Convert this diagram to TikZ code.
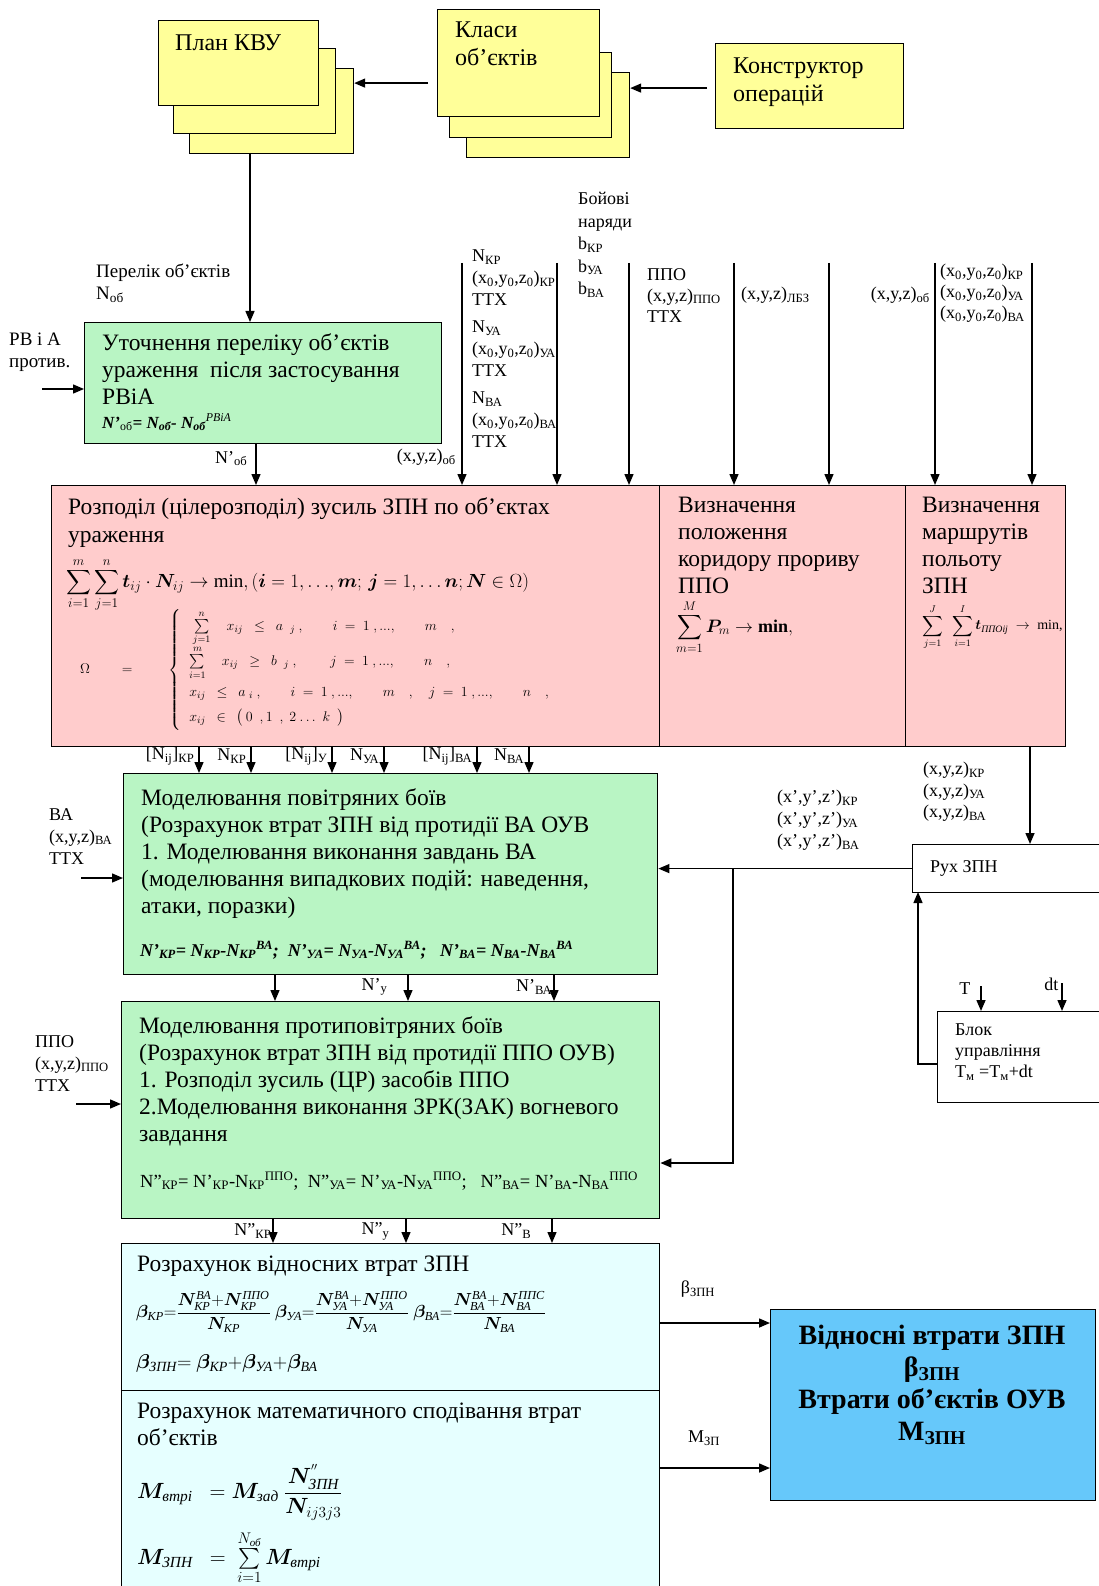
\RequirePackage{fix-cm}
\documentclass[tikz,border=0pt]{standalone}
\usepackage{amsmath}
\usepackage{bm}
\usepackage{fontspec}
\setmainfont{Liberation Serif}
\usetikzlibrary{arrows.meta,positioning}
\definecolor{yel}{RGB}{255,255,153}
\definecolor{grn}{RGB}{185,245,196}
\definecolor{pnk}{RGB}{255,204,204}
\definecolor{cyn}{RGB}{230,255,255}
\definecolor{blu}{RGB}{102,200,250}
\newcommand{\ci}[1]{\text{\itshape #1}}
\begin{document}
\begin{tikzpicture}[x=1pt, y=-1pt, every node/.style={inner sep=0pt},
  blk/.style={draw, line width=1.4pt, anchor=north west},
  ybox/.style={blk, fill=yel, line width=1.2pt},
  gbox/.style={blk, fill=grn},
  rbox/.style={blk, fill=pnk},
  cbox/.style={blk, fill=cyn},
  wbox/.style={blk, fill=white, line width=1.2pt},
  big/.style={font=\fontsize{23.5}{27}\selectfont, align=left, anchor=north west},
  ytxt/.style={font=\fontsize{24}{28}\selectfont, align=left, anchor=north west},
  lbl/.style={font=\fontsize{18}{21}\selectfont, align=left},
  arr/.style={line width=1.4pt, -{Triangle[length=11pt,width=9pt]}}]
  \useasboundingbox (0,0) rectangle (1099,1586);
  \clip (0,0) rectangle (1099,1586);
  % top stacks
  \node[ybox, minimum width=164, minimum height=85] (plan3) at (189,68) {};
  \node[ybox, minimum width=162, minimum height=85] (plan2) at (173,48) {};
  \node[ybox, minimum width=160, minimum height=85] (plan1) at (158,20) {};
  \node[ytxt] (plantxt) at (175,35) {План КВУ};
  \node[ybox, minimum width=163, minimum height=85] (klas3) at (466,72) {};
  \node[ybox, minimum width=162, minimum height=85] (klas2) at (449,52) {};
  \node[ybox, minimum width=162, minimum height=107] (klas1) at (437,9) {};
  \node[ytxt] (klastxt) at (455,22) {Класи\\об’єктів};
  \node[ybox, minimum width=188, minimum height=85] (konstr) at (715,43) {};
  \node[ytxt] (konstrtxt) at (733,58) {Конструктор\\операцій};
  \draw[arr] ([xshift=-9pt,yshift=-20pt]klas1.west) -- ([yshift=-20pt]klas1.west -| plan3.east);
  \draw[arr] ([xshift=-8pt,yshift=-2pt]konstr.west) -- ([yshift=-2pt]konstr.west -| klas3.east);
  % first green block
  \node[gbox, minimum width=357, minimum height=121] (utoch) at (84,322) {};
  \node[big] (utochtxt) at (102,333) {Уточнення переліку об’єктів\\ураження \ після застосування\\РВіА\\[-3pt]
    {\fontsize{17}{20}\selectfont\bfseries\itshape N’\textsubscript{\upshape\mdseries об}= N\textsubscript{об}- N\textsubscript{об}\textsuperscript{\mdseries РВіА}}};
  \coordinate (p1) at (250,153);
  \draw[arr] (p1) -- (p1 |- utoch.north);
  \node[lbl, anchor=north west, font=\fontsize{19}{22}\selectfont] (perelik) at (96,264) {Перелік об’єктів\\N\textsubscript{об}};
  \node[lbl, anchor=north west, font=\fontsize{19}{22}\selectfont] (rvia) at (9,333) {РВ і А\\против.};
  \coordinate (rin) at (42,389);
  \draw[arr] (rin) -- (rin -| utoch.west);
  % red blocks
  \node[rbox, minimum width=608, minimum height=261] (rozp) at (51,485) {};
  \node[rbox, minimum width=246, minimum height=261] (kor) at (659,485) {};
  \node[rbox, minimum width=160, minimum height=261] (marsh) at (905,485) {};
  \coordinate (n1) at (256,460);
  \draw[arr] (n1 |- utoch.south) -- (n1 |- rozp.north) node[lbl, pos=0.35, left=8pt] {N’\textsubscript{об}};
  \foreach \x in {462,557,629} {
    \coordinate (s) at (\x,263);
    \draw[arr] (s) -- (s |- rozp.north);
  }
  \foreach \x in {734,829} {
    \coordinate (s) at (\x,263);
    \draw[arr] (s) -- (s |- kor.north);
  }
  \foreach \x in {935,1032} {
    \coordinate (s) at (\x,263);
    \draw[arr] (s) -- (s |- marsh.north);
  }
  \node[lbl, anchor=north east] (xyzob) at (456,449) {(x,y,z)\textsubscript{об}};
  \node[lbl, anchor=north west, font=\fontsize{18}{22}\selectfont] (nkr) at (472,250)
    {N\textsubscript{КР}\\(x\textsubscript{0},y\textsubscript{0},z\textsubscript{0})\textsubscript{КР}\\ТТХ\\[5pt]
     N\textsubscript{УА}\\(x\textsubscript{0},y\textsubscript{0},z\textsubscript{0})\textsubscript{УА}\\ТТХ\\[5pt]
     N\textsubscript{ВА}\\(x\textsubscript{0},y\textsubscript{0},z\textsubscript{0})\textsubscript{ВА}\\ТТХ};
  \node[lbl, anchor=north west, font=\fontsize{18}{22.5}\selectfont] (boiovi) at (578,192)
    {Бойові\\наряди\\b\textsubscript{КР}\\b\textsubscript{УА}\\b\textsubscript{ВА}};
  \node[lbl, anchor=north west] (ppoin) at (647,268) {ППО\\(x,y,z)\textsubscript{ППО}\\ТТХ};
  \node[lbl, anchor=north west] (lbz) at (741,287) {(x,y,z)\textsubscript{ЛБЗ}};
  \node[lbl, anchor=north east] (xyzob2) at (930,287) {(x,y,z)\textsubscript{об}};
  \node[lbl, anchor=north west] (x0) at (940,264)
    {(x\textsubscript{0},y\textsubscript{0},z\textsubscript{0})\textsubscript{КР}\\(x\textsubscript{0},y\textsubscript{0},z\textsubscript{0})\textsubscript{УА}\\(x\textsubscript{0},y\textsubscript{0},z\textsubscript{0})\textsubscript{ВА}};
  \node[big, font=\fontsize{23.5}{28}\selectfont] (rozptxt) at (68,497) {Розподіл (цілерозподіл) зусиль ЗПН по об’єктах\\ураження};
  \node[anchor=west, font=\fontsize{19}{23}\selectfont] (rozpsum) at (66,585)
    {$\displaystyle\sum_{i=1}^{m}\sum_{j=1}^{n}\bm{t}_{ij}\cdot\bm{N}_{ij}\to\min,(\bm{i}=1,{\ldots},\bm{m};\,\bm{j}=1,{\ldots}\,\bm{n};\bm{N}\in\Omega)$};
  \node[anchor=west, font=\fontsize{14}{17}\selectfont] (omeg) at (80,670)
    {$\Omega\qquad=\qquad\ \left\{\renewcommand{\arraystretch}{1.45}\begin{array}{l}
      \ \ \sum\limits_{j=1}^{n}\quad x_{ij}\ \ \le\ \ a\ \ _{j}\ ,\qquad i\ =\ 1\ ,...,\qquad m\quad ,\\
      \ \sum\limits_{i=1}^{m}\quad x_{ij}\ \ \ge\ \ b\ \ _{j}\ ,\qquad\ j\ =\ 1\ ,...,\qquad n\quad ,\\
      \ x_{ij}\ \ \le\ \ a\ _{i}\ ,\qquad i\ =\ 1\ ,...,\qquad m\quad ,\quad j\ =\ 1\ ,...,\qquad n\quad ,\\
      \ x_{ij}\ \ \in\ \ \bigl(\,0\ \ ,1\ \ ,\ 2\ {\ldots}\ \ k\ \ \bigr)
    \end{array}\right.$};
  \node[big] (kortxt) at (678,497) {Визначення\\положення\\коридору прориву\\ППО};
  \node[anchor=west, font=\fontsize{18}{22}\selectfont] (korsum) at (676,627)
    {$\displaystyle\sum_{m=1}^{M}\bm{P}_{m}\to\textbf{min},$};
  \node[big] (marshtxt) at (922,497) {Визначення\\маршрутів\\польоту\\ЗПН};
  \node[anchor=west, font=\fontsize{14}{17}\selectfont] (marshsum) at (922,627)
    {$\displaystyle\sum_{j=1}^{J}\ \ \sum_{i=1}^{I}\bm{t}_{\ci{ППОij}}\ \to\ \text{min,}$};
  % air combat block
  \node[gbox, minimum width=534, minimum height=201] (model) at (123,773) {};
  \foreach \x/\t in {199/{[N\textsubscript{ij}]\textsubscript{КР}}, 251/{N\textsubscript{КР}}, 332/{[N\textsubscript{ij}]\textsubscript{У}},
                     384/{N\textsubscript{УА}}, 477/{[N\textsubscript{ij}]\textsubscript{ВА}}, 529/{N\textsubscript{ВА}}} {
    \coordinate (d) at (\x,760);
    \draw[arr] (d |- rozp.south) -- (d |- model.north) node[lbl, pos=0.35, left=4pt] {\t};
  }
  \node[big] (modeltxt) at (141,788) {Моделювання повітряних боїв\\(Розрахунок втрат ЗПН від протидії ВА ОУВ\\1. Моделювання виконання завдань ВА\\(моделювання випадкових подій: наведення,\\атаки, поразки)};
  \node[anchor=west, font=\fontsize{18}{22}\selectfont\bfseries\itshape] (modelf) at (140,950)
    {N’\textsubscript{КР}= N\textsubscript{КР}-N\textsubscript{КР}\textsuperscript{ВА};\ \ N’\textsubscript{УА}= N\textsubscript{УА}-N\textsubscript{УА}\textsuperscript{ВА};\ \ \ N’\textsubscript{ВА}= N\textsubscript{ВА}-N\textsubscript{ВА}\textsuperscript{ВА}};
  \node[lbl, anchor=north west, font=\fontsize{18}{22}\selectfont] (vain) at (49,808) {ВА\\(x,y,z)\textsubscript{ВА}\\ТТХ};
  \coordinate (vin) at (81,878);
  \draw[arr] (vin) -- (vin -| model.west);
  % anti-air block
  \node[gbox, minimum width=538, minimum height=217] (ppomodel) at (121,1001) {};
  \coordinate (e1) at (275,985);
  \draw[arr] (e1 |- model.south) -- (e1 |- ppomodel.north);
  \coordinate (e2) at (408,985);
  \draw[arr] (e2 |- model.south) -- (e2 |- ppomodel.north) node[lbl, pos=0.45, left=20pt] {N’\textsubscript{у}};
  \coordinate (e3) at (554,985);
  \draw[arr] (e3 |- model.south) -- (e3 |- ppomodel.north) node[lbl, pos=0.45, left=1pt] {N’\textsubscript{ВА}};
  \node[big] (ppotxt) at (139,1016) {Моделювання протиповітряних боїв\\(Розрахунок втрат ЗПН від протидії ППО ОУВ)\\1. Розподіл зусиль (ЦР) засобів ППО\\2.Моделювання виконання ЗРК(ЗАК) вогневого\\завдання};
  \node[anchor=west, font=\fontsize{18.5}{22}\selectfont] (ppof) at (140,1181)
    {N”\textsubscript{КР}= N’\textsubscript{КР}-N\textsubscript{КР}\textsuperscript{ППО};\ \ N”\textsubscript{УА}= N’\textsubscript{УА}-N\textsubscript{УА}\textsuperscript{ППО};\ \ \ N”\textsubscript{ВА}= N’\textsubscript{ВА}-N\textsubscript{ВА}\textsuperscript{ППО}};
  \node[lbl, anchor=north west, font=\fontsize{18}{22}\selectfont] (ppoleft) at (35,1035) {ППО\\(x,y,z)\textsubscript{ППО}\\ТТХ};
  \coordinate (pin) at (76,1104);
  \draw[arr] (pin) -- (pin -| ppomodel.west);
  % losses blocks
  \node[cbox, minimum width=538, minimum height=147] (vidn) at (121,1243) {};
  \node[cbox, minimum width=538, minimum height=230] (matsp) at (121,1390) {};
  \coordinate (h1) at (273,1230);
  \draw[arr] (h1 |- ppomodel.south) -- (h1 |- vidn.north) node[lbl, pos=0.5, left=1pt] {N”\textsubscript{КР}};
  \coordinate (h2) at (406,1230);
  \draw[arr] (h2 |- ppomodel.south) -- (h2 |- vidn.north) node[lbl, pos=0.5, left=16pt] {N”\textsubscript{у}};
  \coordinate (h3) at (552,1230);
  \draw[arr] (h3 |- ppomodel.south) -- (h3 |- vidn.north) node[lbl, pos=0.5, left=20pt] {N"\textsubscript{В}};
  \node[big] (vidntxt) at (137,1256) {Розрахунок відносних втрат ЗПН};
  \node[anchor=west, font=\fontsize{17.5}{21}\selectfont] (vidnf) at (136,1312)
    {$\bm{\beta}_{\ci{КР}}{=}\dfrac{\bm{N}^{\ci{ВА}}_{\ci{КР}}{+}\bm{N}^{\ci{ППО}}_{\ci{КР}}}{\bm{N}_{\ci{КР}}}\ \bm{\beta}_{\ci{УА}}{=}\dfrac{\bm{N}^{\ci{ВА}}_{\ci{УА}}{+}\bm{N}^{\ci{ППО}}_{\ci{УА}}}{\bm{N}_{\ci{УА}}}\ \bm{\beta}_{\ci{ВА}}{=}\dfrac{\bm{N}^{\ci{ВА}}_{\ci{ВА}}{+}\bm{N}^{\ci{ППС}}_{\ci{ВА}}}{\bm{N}_{\ci{ВА}}}$};
  \node[anchor=west, font=\fontsize{20}{24}\selectfont] (betaf) at (136,1363)
    {$\bm{\beta}_{\ci{ЗПН}}{=}\ \bm{\beta}_{\ci{КР}}{+}\bm{\beta}_{\ci{УА}}{+}\bm{\beta}_{\ci{ВА}}$};
  \node[big] (matsptxt) at (137,1403) {Розрахунок математичного сподівання втрат\\об’єктів};
  \node[anchor=west, font=\fontsize{22}{26}\selectfont] (mvtr) at (137,1492)
    {$\bm{M}_{\ci{втрі}}\ \ =\bm{M}_{\ci{зад}}\ \dfrac{\bm{N}^{''}_{\ci{ЗПН}}}{\bm{N}_{ij3j3}}$};
  \node[anchor=west, font=\fontsize{22}{26}\selectfont] (mzpn) at (137,1558)
    {$\bm{M}_{\ci{ЗПН}}\ \ =\ \sum\limits_{i=1}^{N_{\ci{об}}}\bm{M}_{\ci{втрі}}$};
  % result
  \node[blk, fill=blu, minimum width=325, minimum height=191] (vtraty) at (770,1309) {};
  \node[font=\fontsize{28}{32}\selectfont\bfseries, align=center] (vtrtxt) at (932,1385)
    {Відносні втрати ЗПН\\β\textsubscript{ЗПН}\\Втрати об’єктів ОУВ\\M\textsubscript{ЗПН}};
  \coordinate (b1) at (659,1323);
  \draw[arr] (b1) -- (b1 -| vtraty.west);
  \node[lbl] (betalbl) at (698,1289) {β\textsubscript{ЗПН}};
  \coordinate (b2) at (659,1468);
  \draw[arr] (b2) -- (b2 -| vtraty.west);
  \node[lbl] (mlbl) at (704,1438) {M\textsubscript{ЗП}};
  % movement and control
  \node[wbox, minimum width=200, minimum height=48] (ruh) at (912,844) {};
  \node[lbl, anchor=west] (ruhtxt) at (930,868) {Рух ЗПН};
  \coordinate (m1) at (1030,746);
  \draw[arr] (m1) -- (m1 |- ruh.north);
  \node[lbl, anchor=north west, font=\fontsize{18}{21.5}\selectfont] (xyz) at (923,762)
    {(x,y,z)\textsubscript{КР}\\(x,y,z)\textsubscript{УА}\\(x,y,z)\textsubscript{ВА}};
  \draw[arr] (ruh.west) -- (ruh.west -| model.east);
  \coordinate (j1) at (733,868);
  \coordinate (j2) at (733,1163);
  \draw[arr] (j1) -- (j2) -- (j2 -| ppomodel.east);
  \node[lbl, anchor=north west, font=\fontsize{18}{22}\selectfont] (xyzp) at (777,790)
    {(x’,y’,z’)\textsubscript{КР}\\(x’,y’,z’)\textsubscript{УА}\\(x’,y’,z’)\textsubscript{ВА}};
  \node[wbox, minimum width=180, minimum height=91] (blok) at (937,1011) {};
  \node[lbl, anchor=north west] (bloktxt) at (955,1024) {Блок\\управління\\T\textsubscript{м} =T\textsubscript{м}+dt};
  \coordinate (t1) at (981,986);
  \draw[arr] (t1) -- (t1 |- blok.north) node[lbl, pos=0.1, left=10pt] {T};
  \coordinate (t2) at (1062,983);
  \draw[arr] (t2) -- (t2 |- blok.north) node[lbl, pos=0.05, left=3pt] {dt};
  \coordinate (f1) at (937,1064);
  \coordinate (f2) at (918,892);
  \draw[arr] (f1) -| (f2);
\end{tikzpicture}
\end{document}
